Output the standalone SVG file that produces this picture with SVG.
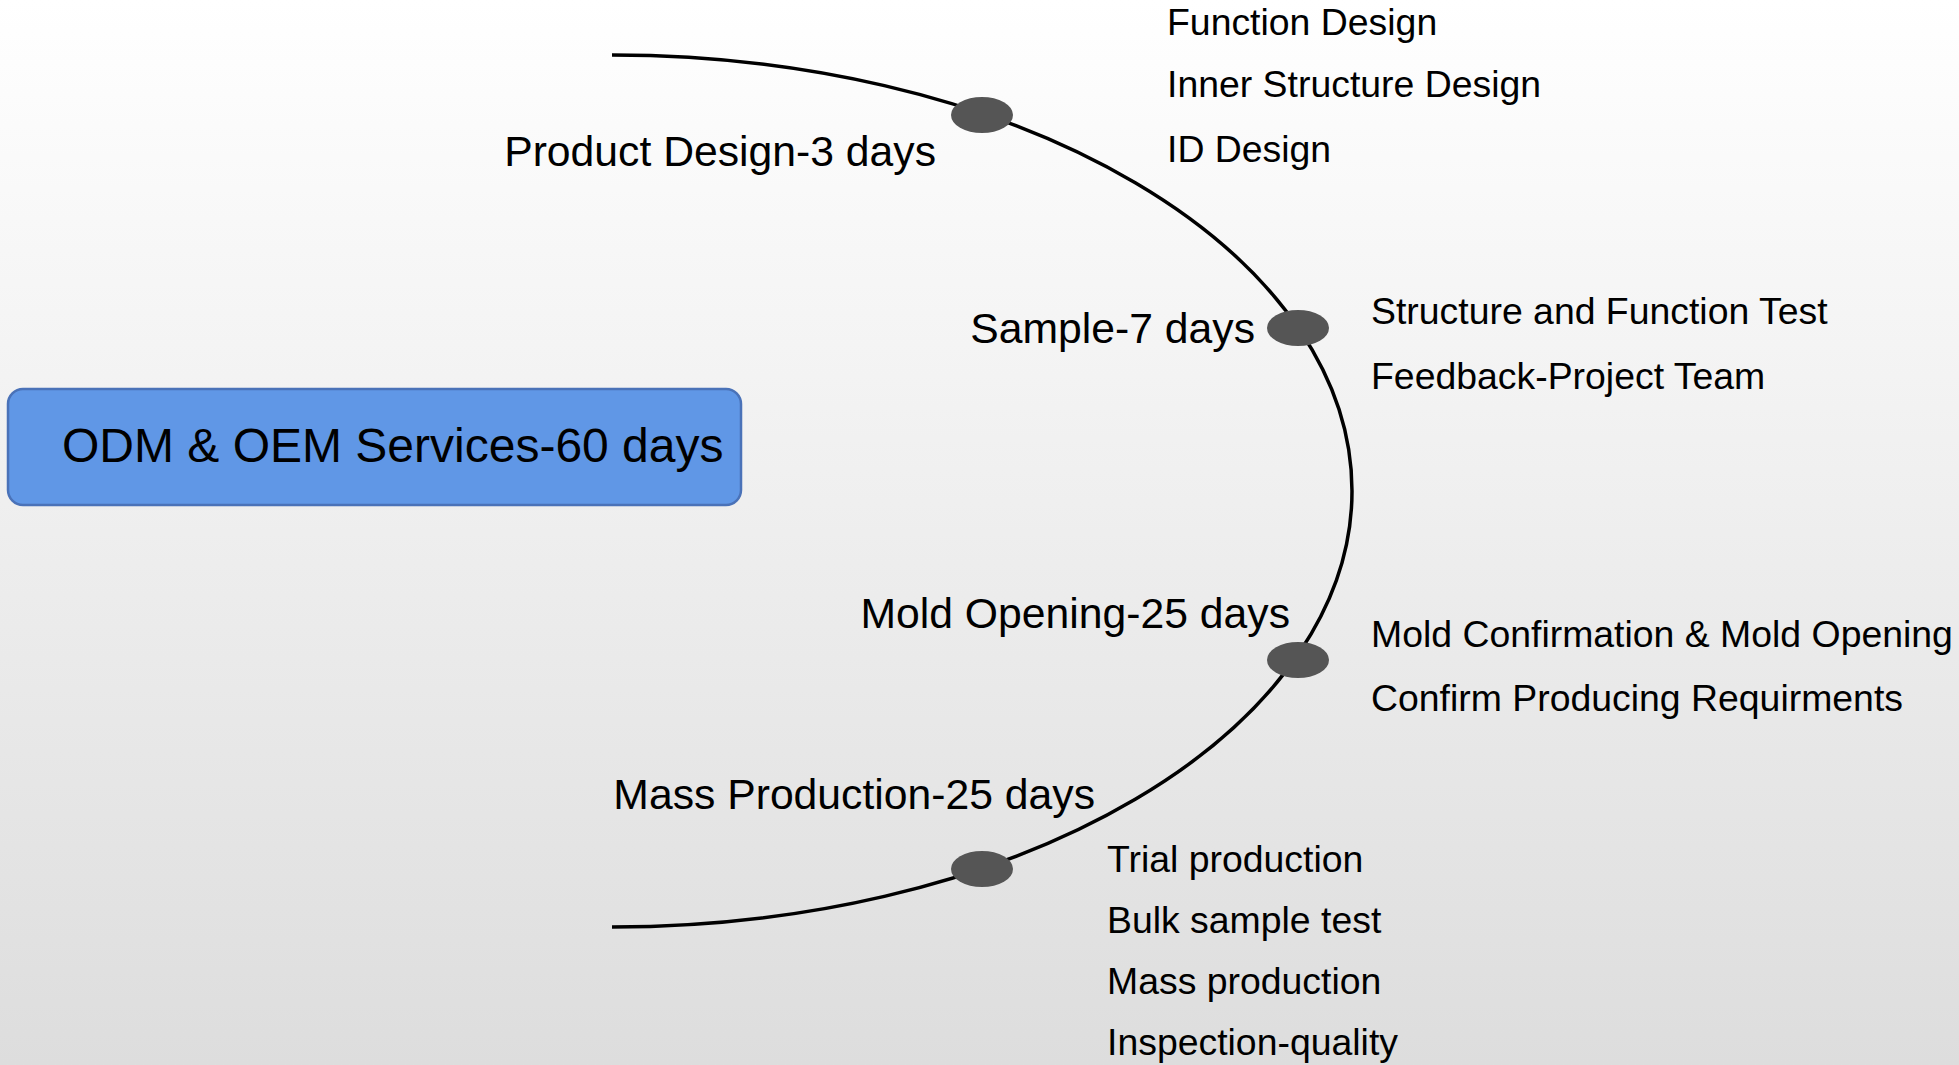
<svg xmlns="http://www.w3.org/2000/svg" width="1959" height="1065" viewBox="0 0 1959 1065">
  <defs>
    <linearGradient id="bg" x1="0" y1="0" x2="0" y2="1">
      <stop offset="0" stop-color="#ffffff"/>
      <stop offset="1" stop-color="#dddddd"/>
    </linearGradient>
    <style>
      text { font-family: "Liberation Sans", Arial, sans-serif; fill: #000000; }
      .root { font-size: 48px; }
      .stage { font-size: 42.7px; text-anchor: end; }
      .item { font-size: 37.4px; }
      .dot { fill: #555555; }
      .arc { fill: none; stroke: #000000; stroke-width: 3.5; }
    </style>
  </defs>
  <rect x="0" y="0" width="1959" height="1065" fill="url(#bg)"/>

  <g id="connectors">
    <path class="arc" d="M 612 55 A 740 436 0 0 1 612 927"/>
  </g>

  <g id="root">
    <rect x="8" y="389" width="733" height="116" rx="15" ry="15" fill="#6097e6" stroke="#4a72b8" stroke-width="2.5"/>
    <text class="root" x="62" y="462">ODM &amp; OEM Services-60 days</text>
  </g>

  <g id="stage-product-design">
    <ellipse class="dot" cx="982" cy="115" rx="31" ry="18"/>
    <text class="stage" x="936" y="166">Product Design-3 days</text>
    <text class="item" x="1167" y="35">Function Design</text>
    <text class="item" x="1167" y="97">Inner Structure Design</text>
    <text class="item" x="1167" y="162">ID Design</text>
  </g>

  <g id="stage-sample">
    <ellipse class="dot" cx="1298" cy="328" rx="31" ry="18"/>
    <text class="stage" x="1255" y="343">Sample-7 days</text>
    <text class="item" x="1371" y="324">Structure and Function Test</text>
    <text class="item" x="1371" y="389">Feedback-Project Team</text>
  </g>

  <g id="stage-mold-opening">
    <ellipse class="dot" cx="1298" cy="660" rx="31" ry="18"/>
    <text class="stage" x="1290" y="628">Mold Opening-25 days</text>
    <text class="item" x="1371" y="647">Mold Confirmation &amp; Mold Opening</text>
    <text class="item" x="1371" y="711">Confirm Producing Requirments</text>
  </g>

  <g id="stage-mass-production">
    <ellipse class="dot" cx="982" cy="869" rx="31" ry="18"/>
    <text class="stage" x="1095" y="809">Mass Production-25 days</text>
    <text class="item" x="1107" y="872">Trial production</text>
    <text class="item" x="1107" y="933">Bulk sample test</text>
    <text class="item" x="1107" y="994">Mass production</text>
    <text class="item" x="1107" y="1055">Inspection-quality</text>
  </g>
</svg>
